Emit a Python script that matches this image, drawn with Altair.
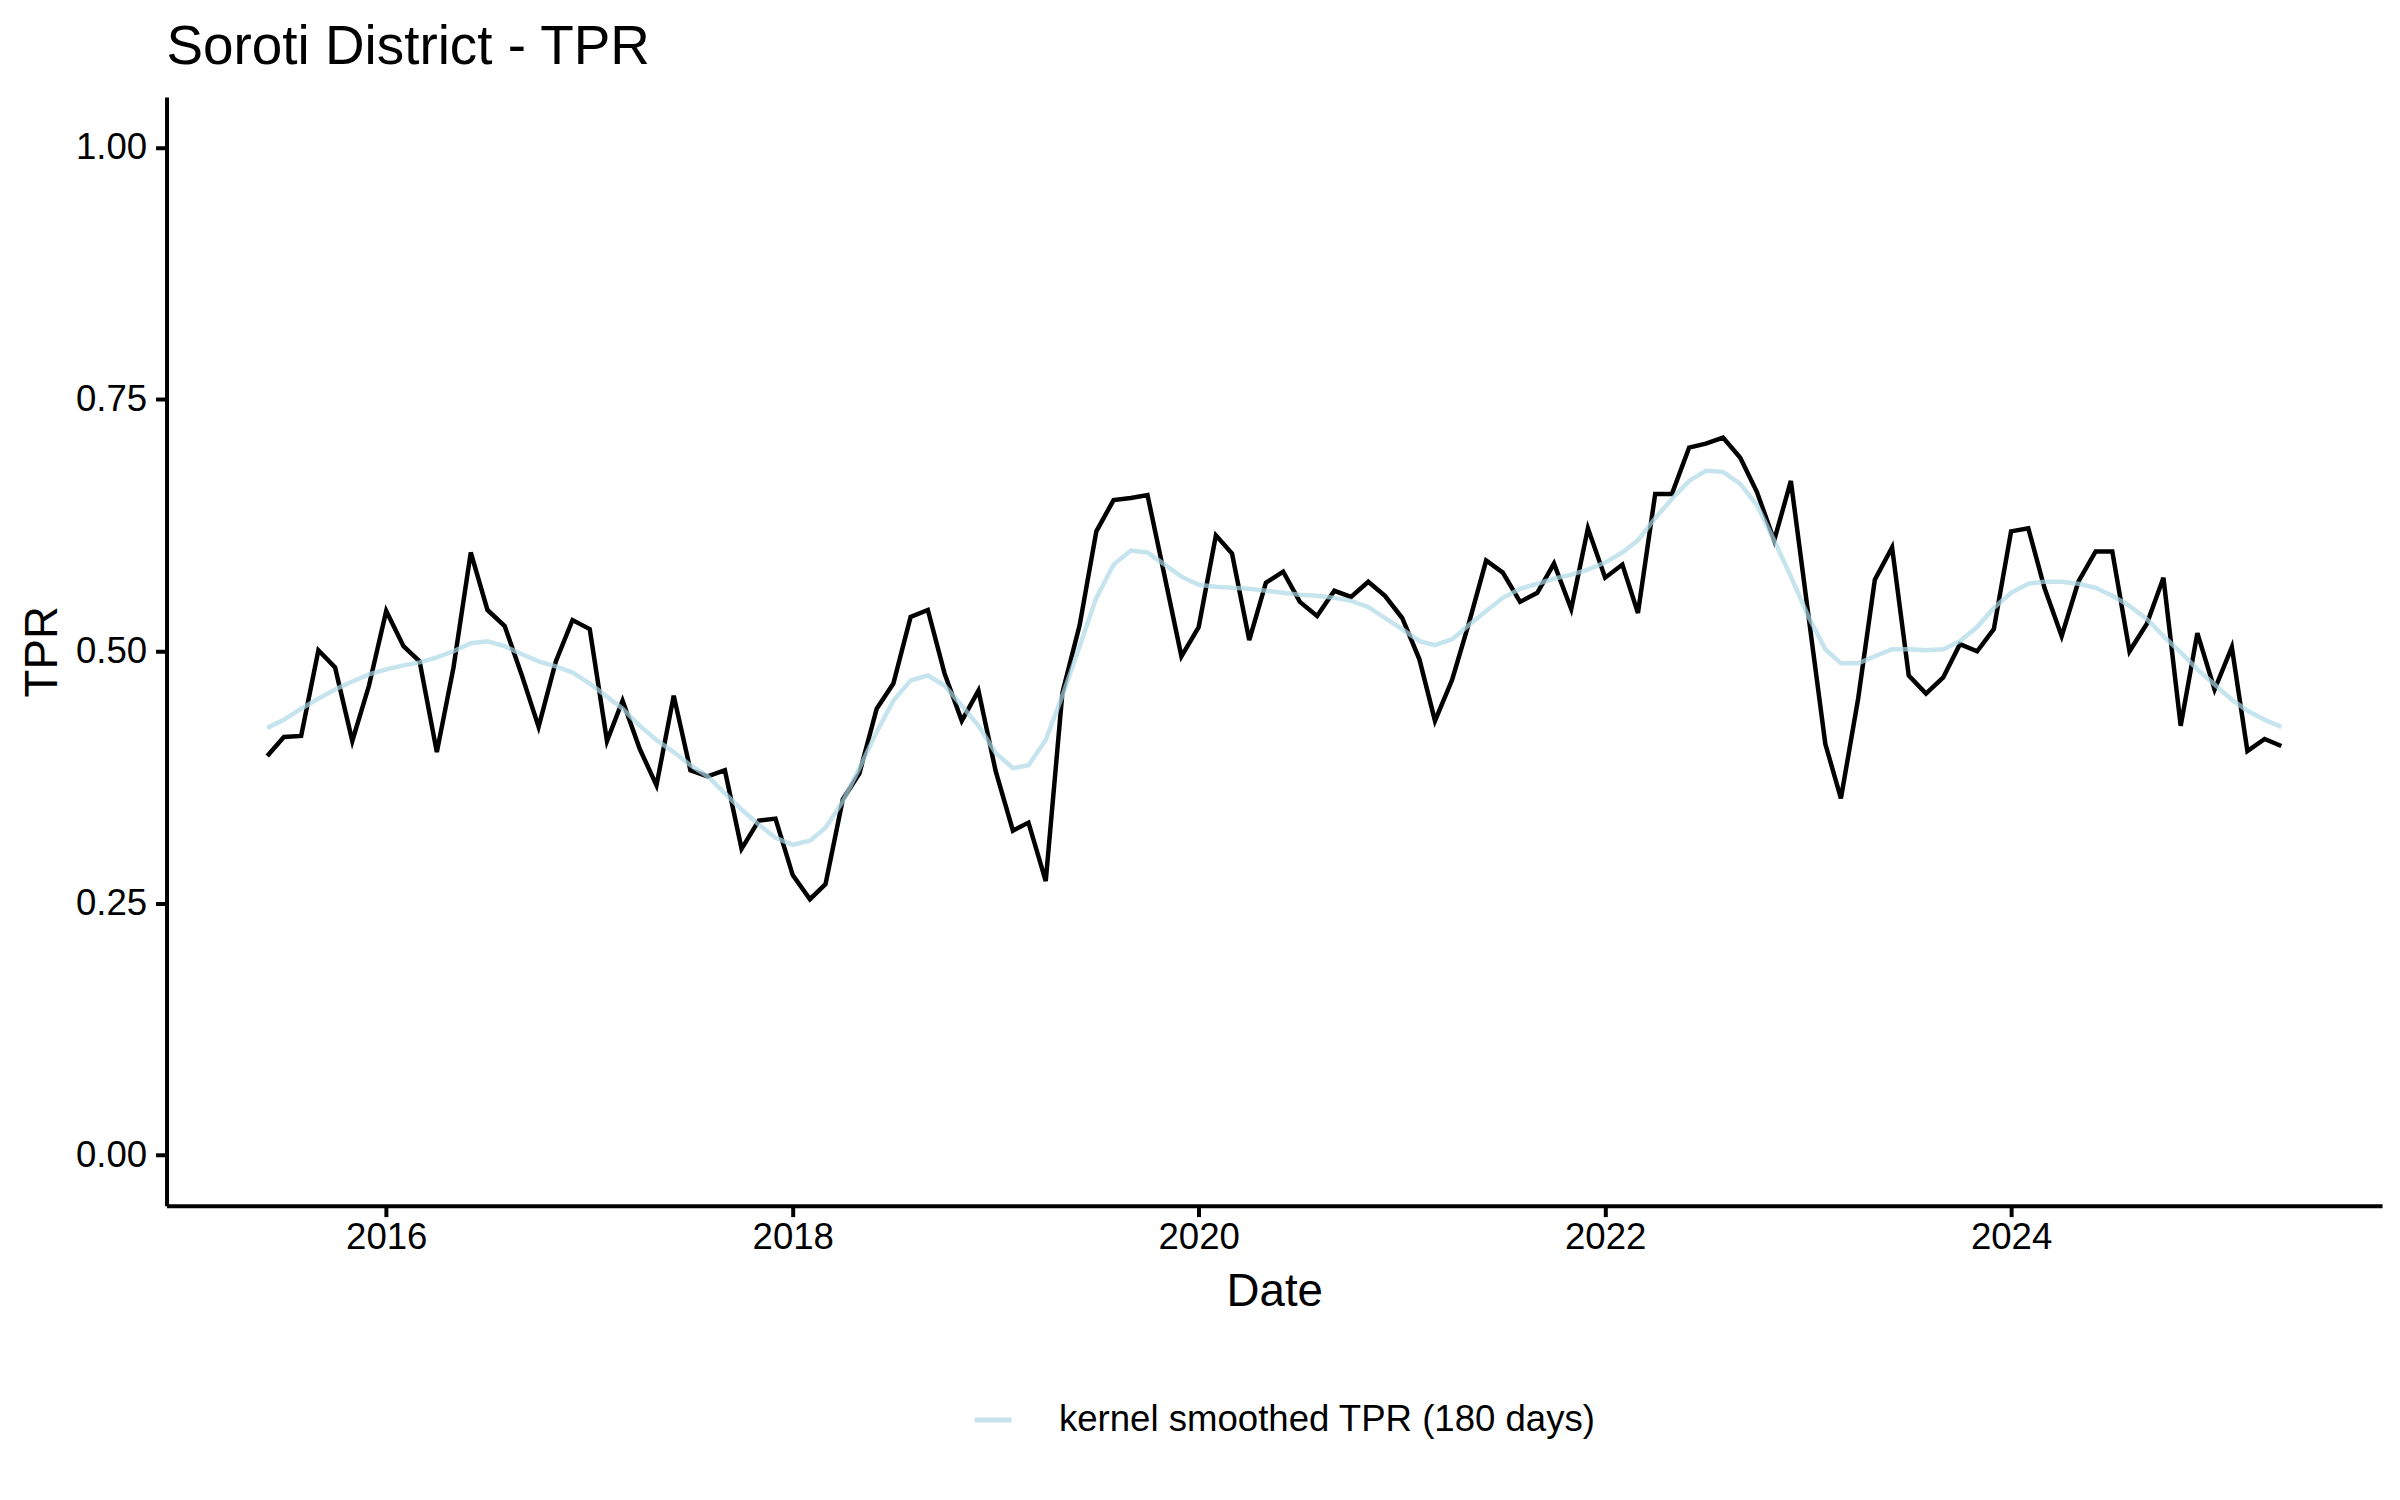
import altair as alt
import pandas as pd

# ---- data (monthly, Jun 2015 .. May 2025) ----
start_month = "2015-06-01"
n_months = 120

tpr = [
    0.396, 0.415, 0.416, 0.501, 0.484, 0.411, 0.466, 0.540, 0.505, 0.490,
    0.400, 0.484, 0.598, 0.541, 0.525, 0.476, 0.425, 0.490, 0.531, 0.522,
    0.411, 0.451, 0.403, 0.367, 0.456, 0.382, 0.376, 0.382, 0.304, 0.332,
    0.334, 0.278, 0.254, 0.269, 0.353, 0.379, 0.443, 0.468, 0.534, 0.541,
    0.478, 0.431, 0.461, 0.381, 0.322, 0.330, 0.272, 0.459, 0.526, 0.619,
    0.650, 0.652, 0.655, 0.574, 0.495, 0.524, 0.615, 0.597, 0.511, 0.568,
    0.579, 0.549, 0.535, 0.560, 0.554, 0.569, 0.555, 0.533, 0.492, 0.431,
    0.472, 0.528, 0.590, 0.578, 0.549, 0.558, 0.587, 0.542, 0.622, 0.573,
    0.586, 0.538, 0.656, 0.656, 0.702, 0.706, 0.712, 0.692, 0.658, 0.610,
    0.669, 0.538, 0.408, 0.354, 0.453, 0.571, 0.603, 0.476, 0.458, 0.474,
    0.507, 0.500, 0.522, 0.619, 0.622, 0.563, 0.515, 0.569, 0.599, 0.599,
    0.500, 0.527, 0.573, 0.426, 0.518, 0.462, 0.504, 0.401, 0.413, 0.406,
]

smooth = [
    0.424, 0.432, 0.443, 0.453, 0.462, 0.470, 0.477, 0.482, 0.486, 0.489,
    0.494, 0.500, 0.508, 0.510, 0.505, 0.497, 0.490, 0.485, 0.479, 0.468,
    0.455, 0.443, 0.426, 0.412, 0.400, 0.387, 0.376, 0.359, 0.343, 0.328,
    0.315, 0.308, 0.312, 0.325, 0.351, 0.384, 0.420, 0.451, 0.471, 0.476,
    0.466, 0.446, 0.426, 0.399, 0.384, 0.387, 0.412, 0.456, 0.505, 0.553,
    0.586, 0.600, 0.598, 0.586, 0.574, 0.566, 0.564, 0.563, 0.562, 0.560,
    0.558, 0.556, 0.555, 0.553, 0.550, 0.544, 0.533, 0.522, 0.510, 0.506,
    0.512, 0.526, 0.540, 0.553, 0.562, 0.567, 0.572, 0.576, 0.581, 0.588,
    0.598, 0.610, 0.632, 0.651, 0.669, 0.679, 0.678, 0.666, 0.645, 0.610,
    0.574, 0.535, 0.502, 0.488, 0.488, 0.495, 0.502, 0.502, 0.501, 0.502,
    0.510, 0.524, 0.543, 0.558, 0.567, 0.569, 0.569, 0.567, 0.563, 0.555,
    0.545, 0.532, 0.515, 0.499, 0.482, 0.467, 0.452, 0.441, 0.432, 0.425,
]

tick_years = [2016, 2018, 2020, 2022, 2024]
y_ticks = [0.0, 0.25, 0.5, 0.75, 1.0]
legend_label = "kernel smoothed TPR (180 days)"
title_text = "Soroti District - TPR"

dates = pd.date_range(start_month, periods=n_months, freq="MS")
df = pd.DataFrame({
    "date": dates.strftime("%Y-%m-%dT%H:%M:%S"),
    "tpr": tpr,
    "smooth": smooth,
    "series": legend_label,
})

# ggplot-like 5% expansion of the x range
span = dates[-1] - dates[0]
d0 = dates[0] - 0.05 * span
d1 = dates[-1] + 0.05 * span


def dt(t):
    return alt.DateTime(year=t.year, month=t.month, date=t.day,
                        hours=t.hour, minutes=t.minute)


FONT = "Liberation Sans"
W, H = 2222, 1112

x_enc = alt.X(
    "date:T",
    scale=alt.Scale(domain=[dt(d0), dt(d1)]),
    axis=alt.Axis(
        title="Date",
        values=[alt.DateTime(year=y, month=1, date=1) for y in tick_years],
        format="%Y",
        labelPadding=3,
        titleX=W / 2,
        titleY=100,
        titleBaseline="alphabetic",
        titleAlign="center",
    ),
)

y_scale = alt.Scale(domain=[-0.05, 1.05], nice=False, zero=False)
y_axis = alt.Axis(
    title="TPR",
    values=y_ticks,
    format=".2f",
    labelPadding=9,
    titleX=-110,
    titleY=H / 2,
    titleAngle=270,
    titleBaseline="alphabetic",
    titleAlign="center",
)

raw = alt.Chart(df).mark_line(color="black", strokeWidth=4.5).encode(
    x=x_enc,
    y=alt.Y("tpr:Q", scale=y_scale, axis=y_axis),
)

smoothed = alt.Chart(df).mark_line(strokeWidth=4.5, opacity=0.7).encode(
    x=alt.X("date:T"),
    y=alt.Y("smooth:Q"),
    color=alt.Color(
        "series:N",
        scale=alt.Scale(domain=[legend_label], range=["#ADD8E6"]),
        legend=alt.Legend(
            title=None,
            orient="none",
            legendX=808,
            legendY=1306,
            symbolType="stroke",
            symbolSize=1369,
            symbolStrokeWidth=5,
            symbolOpacity=0.7,
            labelFontSize=36.7,
            labelFont=FONT,
            labelColor="black",
            labelOffset=45,
            labelLimit=2000,
            padding=0,
        ),
    ),
)

chart = (
    alt.layer(raw, smoothed)
    .properties(
        width=W,
        height=H,
        title=alt.TitleParams(
            title_text,
            anchor="start",
            frame="group",
            fontSize=55,
            font=FONT,
            fontWeight="normal",
            color="black",
            baseline="alphabetic",
            offset=19,
            dy=41,
        ),
        padding={"left": 159, "top": 87, "right": 10, "bottom": 270},
        autosize=alt.AutoSizeParams(type="none"),
    )
    .configure_view(stroke=None)
    .configure_axis(
        grid=False,
        domainColor="black",
        domainWidth=4,
        tickColor="black",
        tickWidth=4,
        tickSize=11,
        labelFont=FONT,
        labelFontSize=36.7,
        labelColor="black",
        titleFont=FONT,
        titleFontSize=45.8,
        titleFontWeight="normal",
        titleColor="black",
    )
)

chart.save("out.html", embed_options={"renderer": "svg", "actions": False})
